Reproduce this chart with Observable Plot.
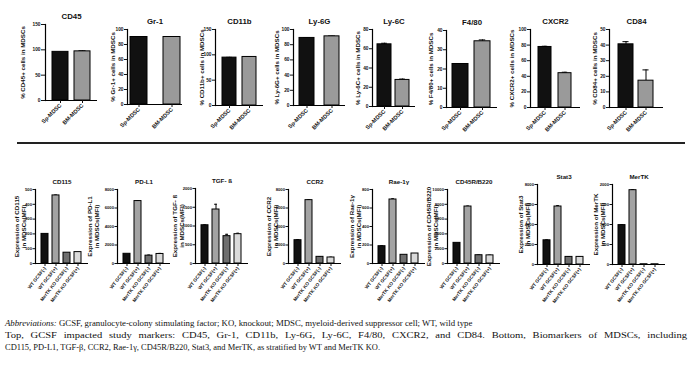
<!DOCTYPE html>
<html><head><meta charset="utf-8">
<script src="https://cdn.jsdelivr.net/npm/d3@7"></script>
<script src="https://cdn.jsdelivr.net/npm/@observablehq/plot@0.6"></script>
<style>
body{margin:0;background:#fff;}
#wrap{position:relative;width:695px;height:370px;overflow:hidden;font-family:"Liberation Sans",Arial,sans-serif;}
.panel{position:absolute;}
#sep{position:absolute;left:17px;top:142px;width:668px;height:2px;background:#222;}
#cap{position:absolute;left:0;top:310px;}
#cap text{font-family:"Liberation Serif","DejaVu Serif",serif;font-size:10.5px;fill:#111;}
</style></head><body><div id="wrap"><div id="sep"></div>
<svg id="cap" width="695" height="60">
<text id="c1" x="5" y="16"><tspan font-style="italic">Abbreviations:</tspan> GCSF, granulocyte-colony stimulating factor; KO, knockout; MDSC, myeloid-derived suppressor cell; WT, wild type</text>
<text id="c2" x="5" y="28">Top, GCSF impacted study markers: CD45, Gr-1, CD11b, Ly-6G, Ly-6C, F4/80, CXCR2, and CD84. Bottom, Biomarkers of MDSCs, including</text>
<text id="c3" x="5" y="40">CD115, PD-L1, TGF-β, CCR2, Rae-1γ, CD45R/B220, Stat3, and MerTK, as stratified by WT and MerTK KO.</text>
</svg>
</div>
<script>
// ---------- DATA ----------
const topGroups = ["Sp-MDSC", "BM-MDSC"];
const topMarkers = ["CD45", "Gr-1", "CD11b", "Ly-6G", "Ly-6C", "F4/80", "CXCR2", "CD84"];
const topSp = [96, 90, 94.5, 88.9, 64.6, 22.6, 77.6, 40.5];
const topSpErr = [0, 0.3, 0.5, 0.3, 1.1, 0.2, 0.9, 1.7];
const topBM = [97, 90, 95.8, 91, 27.6, 34.4, 44, 17.2];
const topBMErr = [1.2, 0.3, 0.5, 0.5, 0.9, 0.7, 1.2, 6.9];
const topYMax = [150, 100, 150, 100, 80, 40, 100, 50];
const topYStep = [50, 20, 50, 20, 20, 10, 20, 10];

const bottomGroups = ["WT GCSF(-)", "WT GCSF(+)", "MerTK KO GCSF(-)", "MerTK KO GCSF(+)"];
const bottomMarkers = ["CD115", "PD-L1", "TGF- ß", "CCR2", "Rae-1γ", "CD45R/B220", "Stat3", "MerTK"];
const wtNeg = [200, 1050, 1020, 2520, 187, 2790, 2420, 985];
const wtNegErr = [0, 0, 10, 60, 5, 0, 40, 10];
const wtPos = [460, 6750, 1440, 6850, 692, 7700, 5800, 1858];
const wtPosErr = [3, 40, 140, 50, 8, 60, 90, 15];
const koNeg = [73, 850, 729, 720, 94, 1120, 760, 6];
const koNegErr = [0, 60, 50, 20, 0, 30, 20, 0];
const koPos = [77, 1030, 782, 650, 108, 1100, 760, 6];
const koPosErr = [0, 60, 25, 30, 0, 30, 20, 0];
const bottomYMax = [500, 8000, 2000, 8000, 800, 10000, 8000, 2000];
const bottomYStep = [100, 2000, 500, 2000, 200, 2000, 2000, 500];

// ---------- LAYOUT / STYLE ----------
const topColors = ["#111111", "#9a9a9a"];
const bottomColors = ["#111111", "#a3a3a3", "#6f6f6f", "#dadada"];
const topAxisX = [45, 127, 215, 293, 372, 446, 530, 609];
const topTop = [24, 29, 29, 29, 29, 30, 29, 29];
const topBottom = [100, 104, 105, 105, 106, 107, 107, 107];
const topW = [52, 55, 48, 52, 43, 51, 50, 54];
const topPi = [0.29, 0.5, 0.29, 0.42, 0.21, 0.26, 0.33, 0.23];
const topPo = [0.3, 0.08, 0.31, 0.25, 0.24, 0.24, 0.4, 0.42];
const topLdx = [-23, -15, -14, -17, -15, -16, -19, -15];

const botAxisX = [35, 117, 195, 288, 372, 447, 537, 612];
const botTop = [189, 189, 188, 189, 189, 189, 184, 184];
const botBottom = [263, 263, 263, 263, 263, 263, 264, 264];
const botLdx = [-15, -24, -17, -16, -17, -15, -13, -13];

const FONT = "'Liberation Sans', Arial, sans-serif";
const ML = 40, MR = 4, MT = 20;
const wrap = document.getElementById("wrap");

function makePanel(o) {
  const n = o.groups.length;
  const h = o.bottom - o.top;
  const step = o.w / (n - o.pi + 2 * o.po);
  const bw = step * (1 - o.pi);
  const data = o.groups.map((g, i) => ({g, v: o.values[i], e: o.errs[i], c: o.colors[i]}));
  const withErr = data.filter(d => d.e > 0);
  const chart = Plot.plot({
    width: ML + o.w + MR, height: MT + h + o.mb,
    marginLeft: ML, marginRight: MR, marginTop: MT, marginBottom: o.mb,
    style: {background: "transparent", overflow: "visible", fontFamily: FONT, color: "#111"},
    x: {type: "band", domain: o.groups, paddingInner: o.pi, paddingOuter: o.po, align: 0.5, axis: null},
    y: {domain: [0, o.ymax], axis: null},
    color: {type: "identity"},
    marks: [
      Plot.ruleX(withErr, {x: "g", y1: "v", y2: d => d.v + d.e, stroke: "#000", strokeWidth: 1}),
      Plot.tickY(withErr, {x: "g", y: d => d.v + d.e, stroke: "#000", strokeWidth: 1, insetLeft: bw * 0.28, insetRight: bw * 0.28}),
      Plot.barY(data, {x: "g", y: "v", fill: "c", stroke: "#000", strokeWidth: 1}),
      Plot.ruleY([0], {stroke: "#000", strokeWidth: 1.2}),
      Plot.frame({anchor: "left", stroke: "#000", strokeWidth: 1.2}),
      Plot.axisY({ticks: d3.range(0, o.ymax + o.ystep / 2, o.ystep), tickSize: o.tickSize, tickPadding: 1,
        fontSize: o.tickFont, fontWeight: "bold", label: null, tickFormat: d => String(d)}),
      Plot.axisX({tickSize: 3, tickRotate: o.rot, fontSize: o.xFont, fontWeight: "bold", label: null, tickPadding: 1}),
      Plot.text([o.title], {text: d => d, frameAnchor: "top", dy: -o.titleGap, fontSize: o.titleFont, fontWeight: "bold"}),
      Plot.text([o.ylabel], {text: d => d, frameAnchor: "left", rotate: -90, dx: o.ldx, textAnchor: "middle",
        fontSize: o.labelFont, fontWeight: "bold", lineHeight: 1.1})
    ]
  });
  const div = document.createElement("div");
  div.className = "panel";
  div.style.left = (o.axisX - ML) + "px";
  div.style.top = (o.top - MT) + "px";
  div.appendChild(chart);
  wrap.appendChild(div);
}

topMarkers.forEach((m, i) => {
  makePanel({
    groups: topGroups, values: [topSp[i], topBM[i]], errs: [topSpErr[i], topBMErr[i]], colors: topColors,
    ymax: topYMax[i], ystep: topYStep[i], title: m, ylabel: "% " + m + "+ cells in MDSCs",
    axisX: topAxisX[i], top: topTop[i], bottom: topBottom[i], w: topW[i], pi: topPi[i], po: topPo[i],
    ldx: topLdx[i], mb: 45, rot: -45, xFont: 5.6, tickFont: 4.8, tickSize: i === 0 ? 4 : 3,
    titleFont: 7.8, titleGap: 11, labelFont: 6.2
  });
});

bottomMarkers.forEach((m, i) => {
  makePanel({
    groups: bottomGroups, values: [wtNeg[i], wtPos[i], koNeg[i], koPos[i]],
    errs: [wtNegErr[i], wtPosErr[i], koNegErr[i], koPosErr[i]], colors: bottomColors,
    ymax: bottomYMax[i], ystep: bottomYStep[i], title: m,
    ylabel: "Expression of " + m + "\nin MDSCs(MFI)",
    axisX: botAxisX[i], top: botTop[i], bottom: botBottom[i], w: 53, pi: 0.34, po: 0.45,
    ldx: botLdx[i], mb: 50, rot: -52, xFont: 4.7, tickFont: 4.2, tickSize: 2.5,
    titleFont: 6.2, titleGap: 10, labelFont: 6.2
  });
});

// caption: font sized so the first line ends where the reference's does;
// the middle line is justified to the full width, the last line is left-aligned.
(function fitCaption() {
  const c1 = document.getElementById("c1");
  const c2 = document.getElementById("c2");
  const c3 = document.getElementById("c3");
  const fs = 10.5 * 468 / c1.getComputedTextLength();
  document.querySelectorAll("#cap text").forEach(t => t.style.fontSize = fs + "px");
  const w3 = c3.getComputedTextLength();
  if (w3 > 375) { c3.setAttribute("textLength", 375); c3.setAttribute("lengthAdjust", "spacingAndGlyphs"); }
  const w2 = c2.getComputedTextLength();
  const spaces = (c2.textContent.match(/ /g) || []).length;
  const extra = (682 - w2);
  if (extra > 0) {
    // share the justification between word gaps and glyph stretching
    c2.setAttribute("word-spacing", (extra * 0.35) / spaces);
    c2.setAttribute("textLength", 682);
    c2.setAttribute("lengthAdjust", "spacingAndGlyphs");
  }
})();
</script>
</body></html>
